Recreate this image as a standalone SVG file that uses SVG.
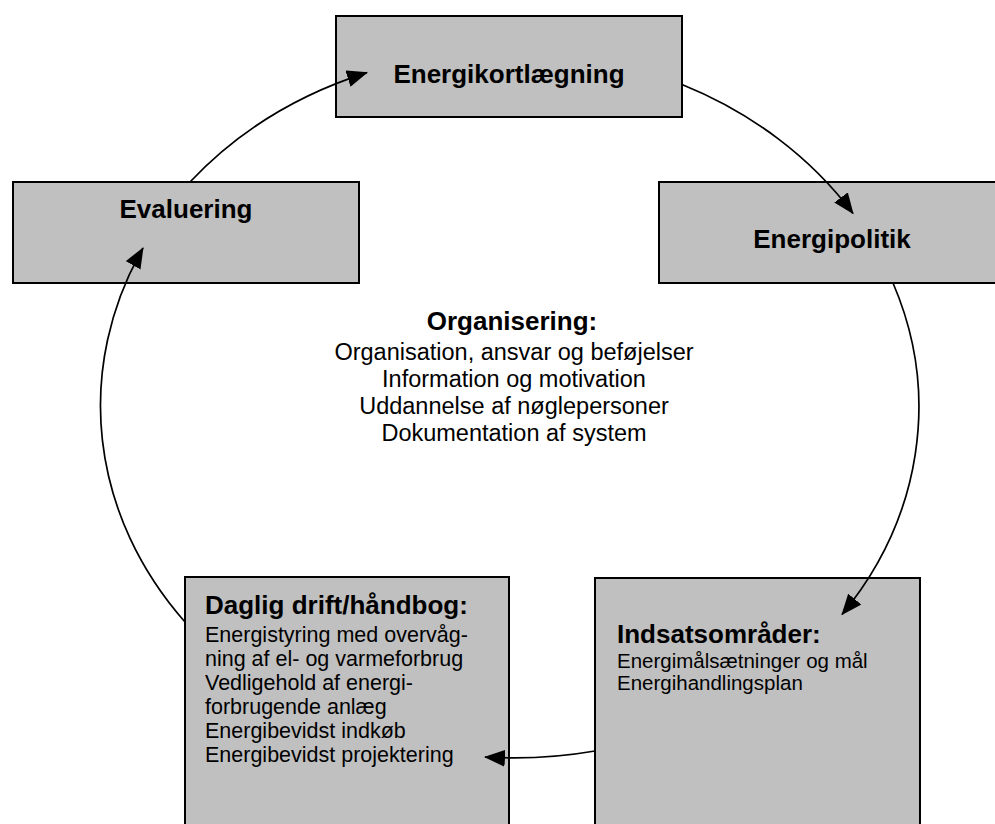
<svg xmlns="http://www.w3.org/2000/svg" width="995" height="824" viewBox="0 0 995 824">
<style>
.box{fill:#c0c0c0;stroke:#000;stroke-width:2}
.t{font-family:"Liberation Sans",Arial,sans-serif;fill:#000}
.b{font-weight:bold;font-size:26px}
.c{text-anchor:middle}
.r{font-size:23.5px}
.rs{font-size:21.5px}
.ri{font-size:20.5px}
.con{fill:none;stroke:#000;stroke-width:1.7}
</style>
<defs>
<marker id="ah" markerUnits="userSpaceOnUse" markerWidth="21" markerHeight="17" viewBox="0 0 21 17" refX="20" refY="8.5" orient="auto">
<path d="M0,0 L21,8.5 L0,17 Z" fill="#000"/>
</marker>
</defs>
<rect width="995" height="824" fill="#fff"/>
<g id="energikortlaegning">
<rect class="box" x="336" y="16" width="346" height="101"/>
<text class="t b c" x="509" y="83">Energikortlægning</text>
</g>
<g id="evaluering">
<rect class="box" x="13" y="182" width="346" height="101"/>
<text class="t b c" x="186" y="218">Evaluering</text>
</g>
<g id="energipolitik">
<rect class="box" x="659" y="182" width="346" height="101"/>
<text class="t b c" x="832" y="248">Energipolitik</text>
</g>
<g id="organisering">
<text class="t b c" x="512" y="330">Organisering:</text>
<text class="t r c" x="514" y="360">Organisation, ansvar og beføjelser</text>
<text class="t r c" x="514" y="387">Information og motivation</text>
<text class="t r c" x="514" y="414">Uddannelse af nøglepersoner</text>
<text class="t r c" x="514" y="441">Dokumentation af system</text>
</g>
<g id="daglig-drift">
<rect class="box" x="185" y="577" width="324" height="260"/>
<text class="t b" x="205" y="614">Daglig drift/håndbog:</text>
<text class="t rs" x="205" y="642">Energistyring med overvåg-</text>
<text class="t rs" x="205" y="666">ning af el- og varmeforbrug</text>
<text class="t rs" x="205" y="690">Vedligehold af energi-</text>
<text class="t rs" x="205" y="714">forbrugende anlæg</text>
<text class="t rs" x="205" y="738">Energibevidst indkøb</text>
<text class="t rs" x="205" y="762">Energibevidst projektering</text>
</g>
<g id="indsatsomraader">
<rect class="box" x="595" y="578" width="325" height="260"/>
<text class="t b" x="617" y="643">Indsatsområder:</text>
<text class="t ri" x="617" y="668">Energimålsætninger og mål</text>
<text class="t ri" x="617" y="690">Energihandlingsplan</text>
</g>
<g id="connectors">
<path class="con" marker-end="url(#ah)" d="M190,182 A411,356 0 0 1 367,72.6"/>
<path class="con" marker-end="url(#ah)" d="M682,84.5 A411,356 0 0 1 853,213.5"/>
<path class="con" marker-end="url(#ah)" d="M893,283 A411,356 0 0 1 842,614.5"/>
<path class="con" marker-end="url(#ah)" d="M595,751 A411,356 0 0 1 485,757"/>
<path class="con" marker-end="url(#ah)" d="M185,622 A411,356 0 0 1 143,248"/>
</g>
</svg>
